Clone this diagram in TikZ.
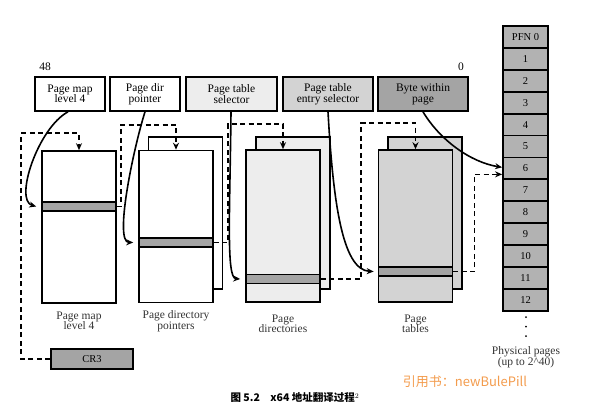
\documentclass[tikz,border=0pt]{standalone}
\usepackage{fontspec}
\setmainfont{Liberation Serif}
\newfontfamily\cjk{Noto Sans CJK SC}
\usetikzlibrary{arrows.meta}
\definecolor{clight}{HTML}{EDEDED}
\definecolor{cmid}{HTML}{D3D3D3}
\definecolor{cdark}{HTML}{A4A4A4}
\definecolor{cpage}{HTML}{B2B2B2}
\definecolor{cmark}{HTML}{F39B4C}
\tikzset{
  every picture/.style={line width=1.6pt},
  field/.style={draw, fill=#1, minimum height=34pt, align=center, inner sep=1pt, font=\fontsize{11.5}{10.5}\selectfont},
  field/.default=white,
  tbl/.style={draw, fill=#1, minimum width=74pt, minimum height=152pt},
  tbl/.default=white,
  entry/.style={draw, fill=cdark, minimum width=74pt, minimum height=9pt, inner sep=0pt},
  pfn/.style={draw, fill=cpage, line width=1.8pt, minimum width=45pt, minimum height=21.9pt, inner sep=0pt, font=\fontsize{10.5}{10}\selectfont},
  label/.style={align=center, text=black!80, font=\fontsize{11.5}{10.5}\selectfont},
  link/.style={-{Stealth[length=7pt, width=6pt]}},
  dlink/.style={link, dash pattern=on 5pt off 3.5pt},
}

\begin{document}
\begin{tikzpicture}[x=1pt, y=-1pt]
  \useasboundingbox (0,0) rectangle (598,413);
  % virtual address fields
  \node[label, text=black] (hibit) at (45, 67) {48};
  \node[label, text=black] (lobit) at (461, 67) {0};
  \node[field, minimum width=70pt] (fpml4) at (70, 94) {Page map\\level 4};
  \node[field, minimum width=70pt] (fpdp) at (145, 94) {Page dir\\pointer};
  \node[field=clight, minimum width=91pt] (fpd) at (231.5, 94) {Page table\\selector};
  \node[field=cmid, minimum width=90pt] (fpt) at (328, 94) {Page table\\entry selector};
  \node[field=cdark, minimum width=90pt] (fbyte) at (423, 94) {Byte within\\page};

  % tables
  \node[tbl] (pml4) at (79, 227) {};
  \node[entry] (pml4e) at (79, 206.5) {};
  \node[tbl] (pdpback) at (185.5, 213) {};
  \node[tbl] (pdp) at (176, 226.5) {};
  \node[entry] (pdpe) at (176, 242.5) {};
  \node[tbl=clight] (pdback) at (293, 213) {};
  \node[tbl=clight] (pd) at (283, 226) {};
  \node[entry] (pde) at (283, 279) {};
  \node[tbl=cmid] (ptback) at (425, 213) {};
  \node[tbl=cmid] (pt) at (415.5, 226) {};
  \node[entry] (pte) at (415.5, 271.5) {};

  \node[label] (lpml4) at (79, 321) {Page map\\level 4};
  \node[label] (lpdp) at (176, 321) {Page directory\\pointers};
  \node[label] (lpd) at (283, 324) {Page\\directories};
  \node[label] (lpt) at (415.5, 324) {Page\\tables};

  % physical pages
  \foreach \i in {0,...,12}
    \node[pfn] (pfn\i) at (525.5, {26+21.9*(\i+0.5)}) {\ifnum\i=0 PFN 0\else\i\fi};
  \foreach \y in {317, 326.5, 336}
    \fill (526, \y) circle (1pt);
  \node[label] (lphys) at (526, 357) {Physical pages\\(up to 2\^{}40)};

  \node[field=cdark, minimum width=82pt, minimum height=20pt, font=\fontsize{10.5}{10}\selectfont] (cr3) at (92, 359) {CR3};

  % table walks
  \draw[dlink] (cr3.west) -- ++(-29,0) |- ([yshift=17pt]pml4.north) -- (pml4.north);
  \draw[link] ([xshift=-2pt]fpml4.south) .. controls (38,128) and (14,200) .. ([xshift=-5pt]pml4e.west);
  \draw[dlink] (pml4e.east) -- ++(4,0) |- ([yshift=25pt]pdp.north) -- (pdp.north);
  \draw[link] (fpdp.south) .. controls (133,150) and (114,242) .. ([xshift=-5pt]pdpe.west);
  \draw[dlink] (pdpe.east) -- ++(14,0) |- ([yshift=25pt]pd.north) -- (pd.north);
  \draw[link] ([xshift=-0.5pt]fpd.south) .. controls (230,210) and (226,278) .. ([xshift=-5pt]pde.west);
  \draw[dlink] (pde.east) -- ++(40,0) |- ([yshift=26pt]pt.north) -- (pt.north);
  \draw[link] (fpt.south) .. controls (333,200) and (342,270) .. ([xshift=-4pt]pte.west);
  \draw[dlink] (pte.east) -- ++(21,0) |- ([yshift=-6pt]pfn6.west);
  \draw[link] (fbyte.south) .. controls (440,140) and (470,162) .. ([yshift=1pt]pfn6.west);

  % caption
  \node[font=\cjk\bfseries\fontsize{10.5}{10}\selectfont] (caption) at (295, 398) {图 5.2\quad x64 地址翻译过程$^2$};
  \node[font=\cjk\fontsize{13}{13}\selectfont, text=cmark] (mark) at (465, 382) {引用书：newBulePill};
\end{tikzpicture}
\end{document}
